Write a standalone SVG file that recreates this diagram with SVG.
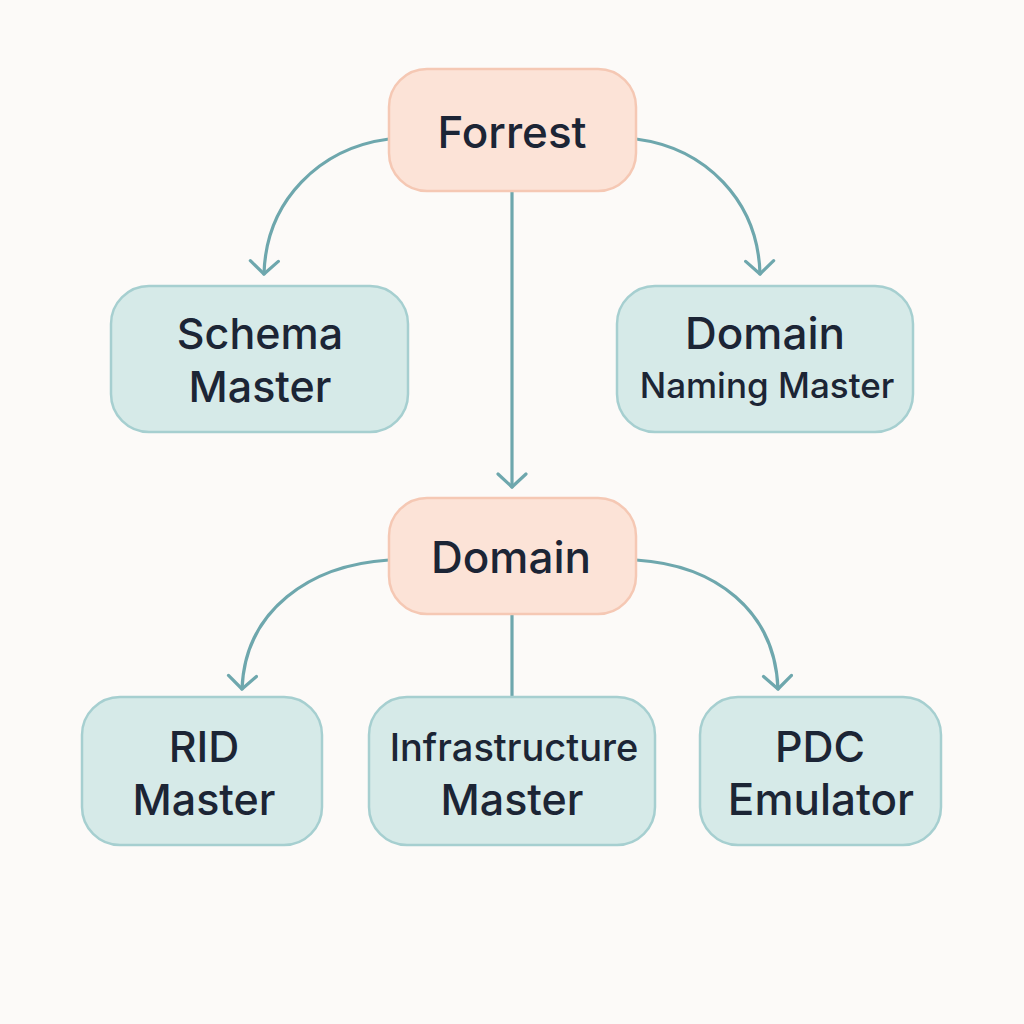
<svg xmlns="http://www.w3.org/2000/svg" width="1024" height="1024" viewBox="0 0 1024 1024">
<defs>
<style>
.top rect{fill:#fce3d7;stroke:#f5c8b4;stroke-width:2.5}
.leaf rect{fill:#d6eae8;stroke:#a6cfd0;stroke-width:2.5}
text{font-family:Inter,"Noto Sans","Liberation Sans",sans-serif;font-weight:500;fill:#1c2535;text-anchor:middle}
.conn path{fill:none;stroke:#6ea7ad;stroke-width:3.2;stroke-linecap:round}
</style>
<marker id="arr" viewBox="-16 -16 32 32" markerWidth="32" markerHeight="32" markerUnits="userSpaceOnUse" refX="0" refY="0" orient="auto">
<path d="M-13,-14 L0,0 L-13,14" fill="none" stroke="#6ea7ad" stroke-width="3.2" stroke-linecap="round" stroke-linejoin="round"/>
</marker>
</defs>
<rect width="1024" height="1024" fill="#fcfaf8"/>
<g class="conn" id="connectors">
<path d="M389,139 C320,148 266,200 264,274" marker-end="url(#arr)"/>
<path d="M636,139 C705,148 758,200 760,274" marker-end="url(#arr)"/>
<path d="M512,192 L512,487" marker-end="url(#arr)"/>
<path d="M389,560 C310,565 245,610 242,689" marker-end="url(#arr)"/>
<path d="M636,560 C715,565 775,610 778,689" marker-end="url(#arr)"/>
<path d="M512,615 L512,697"/>
</g>
<g id="forrest" class="top"><rect x="389" y="69" width="247" height="122" rx="38"/><text x="512" y="148" font-size="44">Forrest</text></g>
<g id="schema" class="leaf"><rect x="111" y="286" width="297" height="146" rx="38"/><text x="260" y="349" font-size="43">Schema</text><text x="260" y="402" font-size="43">Master</text></g>
<g id="naming" class="leaf"><rect x="617" y="286" width="296" height="146" rx="38"/><text x="765" y="349" font-size="44">Domain</text><text x="767" y="398" font-size="35">Naming Master</text></g>
<g id="domain" class="top"><rect x="389" y="498" width="247" height="116" rx="38"/><text x="511" y="573" font-size="44">Domain</text></g>
<g id="rid" class="leaf"><rect x="82" y="697" width="240" height="148" rx="38"/><text x="204" y="762" font-size="43">RID</text><text x="204" y="815" font-size="43">Master</text></g>
<g id="infra" class="leaf"><rect x="369" y="697" width="286" height="148" rx="38"/><text x="514" y="761" font-size="38">Infrastructure</text><text x="512" y="815" font-size="43">Master</text></g>
<g id="pdc" class="leaf"><rect x="700" y="697" width="241" height="148" rx="38"/><text x="820" y="762" font-size="43">PDC</text><text x="821" y="815" font-size="44">Emulator</text></g>
</svg>
